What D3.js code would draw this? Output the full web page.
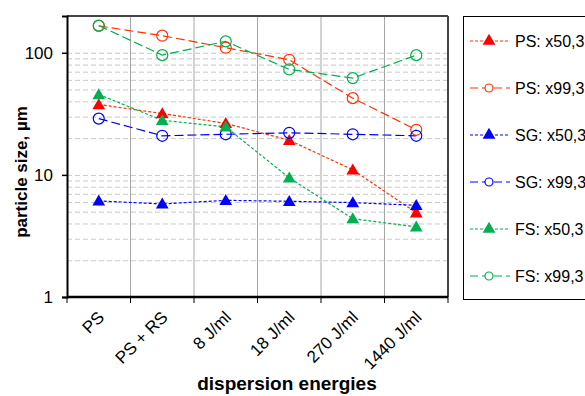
<html>
<head>
  <script src="https://d3js.org/d3.v7.min.js"></script>
  <style>
    body { margin: 0; background: #fff; }
    text { font-family: "Liberation Sans", Arial, sans-serif; fill: #000; }
    .gridlines line { stroke: #c8c8c8; stroke-dasharray: 5,3; }
    .gridlines .domain { stroke: none; }
    .vgrid line { stroke: #a6a6a6; }
    .vgrid .domain { stroke: none; }
  </style>
</head>
<body>
<svg id="chart" width="585" height="396"></svg>
<script>
  // categories along x
  const energies = ["PS", "PS + RS", "8 J/ml", "18 J/ml", "270 J/ml", "1440 J/ml"];

  // values (µm)
  const psX50 = [37.7, 31.8, 26.4, 19.2, 11.0, 4.9];
  const psX99 = [166, 138, 110, 87.6, 42.5, 23.4];
  const sgX50 = [6.12, 5.78, 6.19, 6.08, 5.93, 5.63];
  const sgX99 = [28.9, 20.9, 21.5, 22.1, 21.5, 20.9];
  const fsX50 = [45.5, 28.0, 24.7, 9.45, 4.38, 3.75];
  const fsX99 = [167, 95.6, 124, 73, 62, 95.6];

  const yTicks = [1, 10, 100];
  const yMinor = [2, 3, 4, 5, 6, 7, 8, 9, 10, 20, 30, 40, 50, 60, 70, 80, 90, 100];

  const series = [
    { name: "PS: x50,3", values: psX50, color: "#ff0000", line: "#ff3300", shape: "tri", dash: "3,2" },
    { name: "PS: x99,3", values: psX99, color: "#ff3300", line: "#ff3300", shape: "circle", dash: "9,4" },
    { name: "SG: x50,3", values: sgX50, color: "#0000ff", line: "#0000ff", shape: "tri", dash: "3,2" },
    { name: "SG: x99,3", values: sgX99, color: "#0000ff", line: "#0000ff", shape: "circle", dash: "9,4" },
    { name: "FS: x50,3", values: fsX50, color: "#00b050", line: "#00b050", shape: "tri", dash: "3,2" },
    { name: "FS: x99,3", values: fsX99, color: "#00b050", line: "#00b050", shape: "circle", dash: "9,4" }
  ];

  const svg = d3.select("svg#chart");
  const margin = { top: 16, left: 67, right: 137, bottom: 99 };
  const chartWidth = 585 - margin.left - margin.right;
  const chartHeight = 396 - margin.top - margin.bottom;

  const xScale = d3.scaleBand().domain(energies).range([0, chartWidth]);
  const yScale = d3.scaleLog().domain([1, 200]).range([chartHeight, 0]);

  const plot = svg.append("g").attr("transform", `translate(${margin.left},${margin.top})`);

  // dashed horizontal gridlines
  plot.append("g").attr("class", "gridlines")
    .call(d3.axisLeft(yScale).tickValues(yMinor).tickSize(-chartWidth).tickFormat(""));

  // vertical solid gridlines at category boundaries
  const bounds = energies.slice(1).map(d => xScale(d));
  plot.append("g").attr("class", "vgrid")
    .selectAll("line").data(bounds).join("line")
    .attr("x1", d => d).attr("x2", d => d)
    .attr("y1", 0).attr("y2", chartHeight);

  // frame: top and right grey, left and bottom black
  plot.append("line").attr("x1", 0).attr("x2", chartWidth).attr("y1", 0).attr("y2", 0)
    .attr("stroke", "#444").attr("stroke-width", 2);
  plot.append("line").attr("x1", chartWidth).attr("x2", chartWidth).attr("y1", 0).attr("y2", chartHeight)
    .attr("stroke", "#444").attr("stroke-width", 2);

  // y axis
  const leftAxis = plot.append("g")
    .call(d3.axisLeft(yScale).tickValues(yTicks).tickFormat(d3.format("d")).tickSize(5).tickPadding(9));
  leftAxis.select(".domain").attr("stroke", "#000").attr("stroke-width", 2);
  leftAxis.selectAll(".tick line").attr("stroke", "#000").attr("stroke-width", 1.5);
  leftAxis.selectAll(".tick text").style("font-size", "17px").attr("dy", "0.35em");

  // x axis: ticks on category boundaries
  const bottom = plot.append("g").attr("transform", `translate(0,${chartHeight})`);
  bottom.append("line").attr("x1", 0).attr("x2", chartWidth).attr("y1", 0).attr("y2", 0)
    .attr("stroke", "#000").attr("stroke-width", 2.5);
  bottom.selectAll("line.tk").data([0, ...bounds, chartWidth]).join("line")
    .attr("class", "tk")
    .attr("x1", d => d).attr("x2", d => d).attr("y1", 0).attr("y2", 6)
    .attr("stroke", "#000").attr("stroke-width", 1);
  bottom.selectAll("text.lbl").data(energies).join("text")
    .attr("class", "lbl")
    .attr("transform", d => `translate(${xScale(d) + xScale.bandwidth() / 2 - 2},${13}) rotate(-45)`)
    .attr("text-anchor", "end")
    .attr("dy", "0.7em")
    .style("font-size", "17px")
    .text(d => d);

  // axis titles
  svg.append("text")
    .attr("transform", "translate(27,172) rotate(-90)")
    .attr("text-anchor", "middle")
    .style("font-size", "17px").style("font-weight", "bold")
    .text("particle size, µm");
  svg.append("text")
    .attr("x", 287).attr("y", 390)
    .attr("text-anchor", "middle")
    .style("font-size", "19px").style("font-weight", "bold")
    .text("dispersion energies");

  const tri = d3.symbol().type(d3.symbolTriangle).size(70);

  function drawMarker(g, s, x, y) {
    if (s.shape === "tri") {
      g.append("path").attr("d", tri).attr("transform", `translate(${x},${y + 1})`)
        .attr("fill", s.color);
    } else {
      g.append("circle").attr("cx", x).attr("cy", y).attr("r", 5.5)
        .attr("fill", "none").attr("stroke", s.color).attr("stroke-width", 1.2);
    }
  }

  // lines and markers
  const lineGen = d3.line()
    .x((d, i) => xScale(energies[i]) + xScale.bandwidth() / 2)
    .y(d => yScale(d));

  series.forEach(s => {
    plot.append("path").datum(s.values)
      .attr("d", lineGen)
      .attr("fill", "none")
      .attr("stroke", s.line)
      .attr("stroke-width", 1.2)
      .attr("stroke-dasharray", s.dash);
  });
  series.forEach(s => {
    const g = plot.append("g");
    s.values.forEach((v, i) => drawMarker(g, s, xScale(energies[i]) + xScale.bandwidth() / 2, yScale(v)));
  });

  // legend
  const legend = svg.append("g");
  legend.append("rect").attr("x", 463.5).attr("y", 16.5).attr("width", 140).attr("height", 283)
    .attr("fill", "none").attr("stroke", "#000").attr("stroke-width", 1);
  series.forEach((s, i) => {
    const y = 41 + i * 47;
    legend.append("line").attr("x1", 470).attr("x2", 510).attr("y1", y).attr("y2", y)
      .attr("stroke", s.line).attr("stroke-width", 1.2)
      .attr("stroke-dasharray", s.shape === "tri" ? "3,2" : "8,4");
    if (s.shape === "tri") {
      legend.append("path").attr("d", tri).attr("transform", `translate(489,${y})`).attr("fill", s.color);
    } else {
      legend.append("circle").attr("cx", 489).attr("cy", y).attr("r", 4)
        .attr("fill", "#fff").attr("stroke", s.color).attr("stroke-width", 1.2);
    }
    legend.append("text").attr("x", 515).attr("y", y).attr("dy", "0.35em")
      .style("font-size", "16px").text(s.name);
  });
</script>
</body>
</html>
